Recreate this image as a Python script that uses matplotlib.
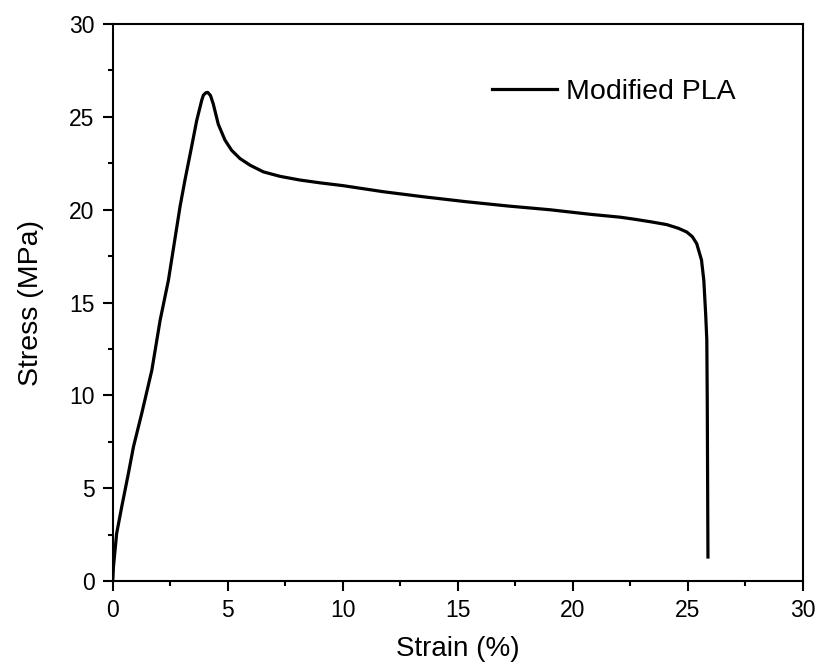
import matplotlib
matplotlib.use("Agg")
import matplotlib.pyplot as plt
from matplotlib.ticker import MultipleLocator

# tensile curve
strain = [0, 0.03, 0.17, 0.39, 0.68, 0.90, 1.26, 1.70, 2.06, 2.42, 2.93,
          3.14, 3.43, 3.65, 3.87, 3.94, 4.05, 4.13, 4.25, 4.37, 4.59, 4.88,
          5.17, 5.53, 5.97, 6.55, 7.27, 8.14, 9.01, 10.0, 11.77, 13.5, 15.39,
          17.2, 19.01, 20.8, 22.06, 22.63, 23.4, 24.09, 24.6, 24.96, 25.2,
          25.39, 25.6, 25.7, 25.78, 25.83, 25.85, 25.88]
stress = [0, 0.77, 2.57, 4.0, 5.8, 7.23, 9.03, 11.36, 14.05, 16.2, 20.2,
          21.6, 23.4, 24.8, 25.9, 26.17, 26.3, 26.32, 26.15, 25.7, 24.6, 23.75,
          23.2, 22.76, 22.4, 22.04, 21.8, 21.6, 21.45, 21.3, 20.97, 20.7, 20.43,
          20.2, 20.0, 19.75, 19.6, 19.5, 19.35, 19.2, 19.0, 18.8, 18.55,
          18.18, 17.29, 16.2, 14.4, 13.0, 9.7, 1.3]

plt.rcParams.update({
    "font.family": ["Liberation Sans", "DejaVu Sans"],
    "font.size": 16.5,
})

fig = plt.figure(figsize=(8.17, 6.68), dpi=100)
ax = fig.add_axes([0.138, 0.130, 0.8445, 0.834])

ax.plot(strain, stress, color="black", lw=2.3, label="Modified PLA")

ax.set_xlim(0, 30)
ax.set_ylim(0, 30)
ax.xaxis.set_major_locator(MultipleLocator(5))
ax.xaxis.set_minor_locator(MultipleLocator(2.5))
ax.yaxis.set_major_locator(MultipleLocator(5))
ax.yaxis.set_minor_locator(MultipleLocator(2.5))
ax.tick_params(which="major", direction="out", length=7.5, width=1.5,
               labelsize=16.5, pad=5.5)
ax.tick_params(which="minor", direction="out", length=3.8, width=1.5)
for sp in ax.spines.values():
    sp.set_linewidth(1.5)

ax.set_xlabel("Strain (%)", fontsize=20, labelpad=10)
ax.set_ylabel("Stress (MPa)", fontsize=20.5, labelpad=18)

ax.legend(loc="upper left", bbox_to_anchor=(0.533, 0.922), frameon=False,
          fontsize=20.5, handlelength=2.3, handletextpad=0.3, borderaxespad=0)

fig.savefig("out.png", dpi=100)
